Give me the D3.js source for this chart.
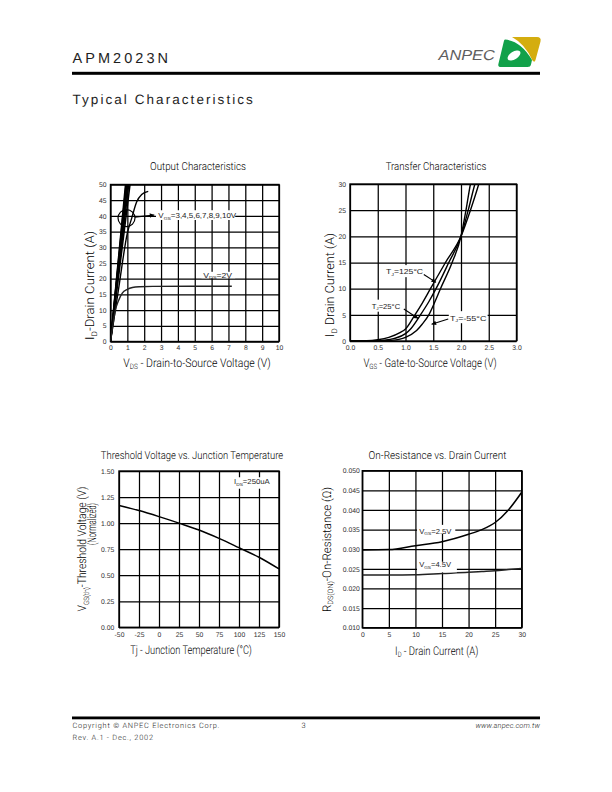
<!DOCTYPE html>
<html><head><meta charset="utf-8">
<script src="https://cdn.jsdelivr.net/npm/d3@7"></script>
<style>body{margin:0;background:#fff}svg{display:block}text{text-rendering:geometricPrecision}</style>
</head><body>
<svg id="page" width="612" height="792"></svg>
<script>
// ---------------- DATA ----------------
// Output Characteristics
const outXTicks = [0,1,2,3,4,5,6,7,8,9,10];
const outYTicks = [0,5,10,15,20,25,30,35,40,45,50];
const outVgs2 = [[0,0],[0.15,5.5],[0.27,9.5],[0.5,13.3],[0.7,15.4],[1.0,16.6],[1.3,17.2],[1.7,17.45],[2.5,17.55],[7.2,17.6]];
const outVgs3 = [[0,0],[0.5,17.5],[1.0,34.5],[1.26,39.3],[1.55,44.4],[1.85,46.8],[2.24,47.8]];
const outVgs4to10 = [
  [[0,0],[1.16,50],[1.2,52]],
  [[0,0],[1.08,50],[1.12,52]],
  [[0,0],[1.02,50],[1.06,52]],
  [[0,0],[0.98,50],[1.02,52]],
  [[0,0],[0.95,50],[0.99,52]],
  [[0,0],[0.92,50],[0.96,52]],
  [[0,0],[0.89,50],[0.93,52]]
];
// Transfer Characteristics
const trXTicks = [0,0.5,1.0,1.5,2.0,2.5,3.0];
const trYTicks = [0,5,10,15,20,25,30];
const tr125 = [[0,0],[0.3,0.05],[0.5,0.25],[0.7,0.7],[0.9,1.6],[1.0,2.3],[1.17,5],[1.3,7.2],[1.45,10],[1.72,15],[2.0,20],[2.17,25],[2.32,30],[2.36,31.5]];
const tr25  = [[0,0],[0.4,0.03],[0.6,0.15],[0.8,0.5],[1.0,1.4],[1.1,2.4],[1.27,5],[1.42,7.5],[1.55,10],[1.78,15],[2.0,20],[2.13,25],[2.25,30],[2.29,31.5]];
const trM55 = [[0,0],[0.5,0.02],[0.7,0.1],[0.9,0.35],[1.0,0.7],[1.2,2.0],[1.3,3.2],[1.42,5],[1.53,7.5],[1.63,10],[1.84,15],[2.0,20],[2.09,25],[2.17,30],[2.2,31.5]];
// Threshold voltage vs junction temperature
const thXTicks = [-50,-25,0,25,50,75,100,125,150];
const thYTicks = [0,0.25,0.5,0.75,1.0,1.25,1.5];
const thTemps  = [-50,-25,0,25,50,75,100,125,150];
const thValues = [1.17,1.12,1.062,1.0,0.934,0.854,0.764,0.672,0.56];
// On-resistance vs drain current
const ronXTicks = [0,5,10,15,20,25,30];
const ronYTicks = [0.010,0.015,0.020,0.025,0.030,0.035,0.040,0.045,0.050];
const ronId  = [0,5,10,15,20,22.5,25,27.5,30];
const ron25V = [0.0298,0.0299,0.0309,0.0319,0.0338,0.0350,0.0368,0.0400,0.0445];
const ron45V = [0.0234,0.0234,0.0235,0.0238,0.0241,0.0243,0.0245,0.0248,0.0251];

// ---------------- HELPERS ----------------
const FONT = "'Liberation Sans', Arial, Helvetica, sans-serif";
const FONT_L = "Roboto, 'Liberation Sans', Arial, sans-serif";
const INK = "#1e1e1e";
const svg = d3.select("#page");
const defs = svg.append("defs");
defs.append("marker").attr("id","arr").attr("viewBox","0 0 10 10").attr("refX",10).attr("refY",5)
  .attr("markerWidth",5.5).attr("markerHeight",4.5).attr("markerUnits","userSpaceOnUse").attr("orient","auto")
  .append("path").attr("d","M0,0L10,5L0,10Z").attr("fill","#000");

function addText(parent, x, y, parts, o) {
  o = o || {};
  const size = o.size || 10;
  const t = parent.append("text").attr("x",0).attr("y",0)
    .attr("font-family", o.family || FONT).attr("font-size", size)
    .attr("fill", o.fill || INK)
    .attr("text-anchor", o.anchor || "start");
  if (o.italic) t.attr("font-style","italic");
  if (o.weight) t.attr("font-weight",o.weight);
  let shift = 0;
  parts.forEach(p => {
    const s = t.append("tspan").text(p.t);
    const want = p.sub ? size*0.22 : 0;
    if (want !== shift) { s.attr("dy", want - shift); shift = want; }
    if (p.sub) s.attr("font-size", size*0.62);
  });
  let tr = `translate(${x},${y})` + (o.rotate ? ` rotate(${o.rotate})` : "");
  t.attr("transform", tr);
  if (o.width) {
    const w = t.node().getBBox().width;
    if (o.spread) {
      const n = parts.map(p=>p.t).join("").length;
      t.attr("letter-spacing", (o.width - w)/(n-1));
    } else {
      t.attr("transform", tr + ` scale(${o.width/w},1)`);
    }
  }
  return t;
}

let clipN = 0;
function chart(cfg) {
  const g = svg.append("g");
  const x = d3.scaleLinear(cfg.xDomain, [cfg.left, cfg.right]);
  const y = d3.scaleLinear(cfg.yDomain, [cfg.bottom, cfg.top]);
  const h = cfg.bottom - cfg.top, w = cfg.right - cfg.left;
  const gx = g.append("g").attr("transform",`translate(0,${cfg.bottom})`)
    .call(d3.axisBottom(x).tickValues(cfg.xTicks).tickSize(-h).tickFormat(""));
  const gy = g.append("g").attr("transform",`translate(${cfg.left},0)`)
    .call(d3.axisLeft(y).tickValues(cfg.yTicks).tickSize(-w).tickFormat(""));
  [gx,gy].forEach(a => { a.select(".domain").remove(); a.selectAll("line").attr("stroke","#000").attr("stroke-width",1.25); });
  g.append("rect").attr("x",cfg.left).attr("y",cfg.top).attr("width",w).attr("height",h)
    .attr("fill","none").attr("stroke","#000").attr("stroke-width",1.4);
  const lx = g.append("g").attr("transform",`translate(0,${cfg.bottom})`)
    .call(d3.axisBottom(x).tickValues(cfg.xTicks).tickSize(0).tickPadding(cfg.xPad).tickFormat(cfg.xFmt));
  const ly = g.append("g").attr("transform",`translate(${cfg.left},0)`)
    .call(d3.axisLeft(y).tickValues(cfg.yTicks).tickSize(0).tickPadding(cfg.yPad).tickFormat(cfg.yFmt));
  [lx,ly].forEach(a => { a.select(".domain").remove(); a.attr("font-family",FONT).attr("font-size",6.8); a.selectAll("text").attr("fill","#333"); });
  const id = "clip" + (clipN++);
  defs.append("clipPath").attr("id",id).append("rect").attr("x",cfg.left).attr("y",cfg.top).attr("width",w).attr("height",h);
  const plot = g.append("g").attr("clip-path",`url(#${id})`);
  return {g, x, y, plot};
}
function curve(c, pts, sw, color, interp) {
  const line = d3.line().x(d=>c.x(d[0])).y(d=>c.y(d[1])).curve(interp || d3.curveMonotoneX);
  c.plot.append("path").attr("d", line(pts)).attr("fill","none").attr("stroke", color || "#000").attr("stroke-width", sw || 1.4);
}
function whiteBox(c, x0, y0, x1, y1) {
  c.g.append("rect").attr("x", c.x(x0)).attr("y", c.y(y1)).attr("width", c.x(x1)-c.x(x0)).attr("height", c.y(y0)-c.y(y1)).attr("fill","#fff");
}
function arrow(c, a, b) {
  c.g.append("line").attr("x1",c.x(a[0])).attr("y1",c.y(a[1])).attr("x2",c.x(b[0])).attr("y2",c.y(b[1]))
    .attr("stroke","#000").attr("stroke-width",1.1).attr("marker-end","url(#arr)");
}
const plain = d => String(d);
const N = {family: FONT_L, weight: 300, fill: "#000"};

// ---------------- HEADER / FOOTER ----------------
addText(svg, 72.5, 62.7, [{t:"APM2023N"}], {size:14.5, width:95.6, spread:true});
svg.append("rect").attr("x",72).attr("y",71.8).attr("width",468).attr("height",3).attr("fill","#000");
addText(svg, 72.5, 103.5, [{t:"Typical Characteristics"}], {size:13.5, width:180.6, spread:true});
// logo
addText(svg, 438.5, 59.5, [{t:"ANPEC"}], {size:14.5, width:58, italic:true, fill:"#5e5e5e"});
svg.append("path").attr("d","M512,37 L537,37 Q541.5,37 540.5,41.5 L535.5,60 Q534.5,63 532.5,60.5 Q525,44 512,37 Z").attr("fill","#d4ad0f");
svg.append("path").attr("d","M505,39.5 Q521,41 532,60 L531,64.5 Q530.5,67 527.5,67 L501,67 Q497.5,67 498.5,63.5 L503.8,41.5 Q504.2,39.6 505,39.5 Z").attr("fill","#12a14a");
svg.append("ellipse").attr("cx",514).attr("cy",55.5).attr("rx",7.2).attr("ry",3.9).attr("transform","rotate(-33,514,55.5)").attr("fill","#fff");

svg.append("rect").attr("x",72).attr("y",716.5).attr("width",468).attr("height",2.8).attr("fill","#000");
const F = {family: FONT_L, weight: 300, fill: "#1a1a1a"};
addText(svg, 72.5, 728, [{t:"Copyright © ANPEC Electronics Corp."}], {...F, size:7.4, width:147, spread:true});
addText(svg, 301.5, 728, [{t:"3"}], {...F, size:7.4});
addText(svg, 540, 728, [{t:"www.anpec.com.tw"}], {...F, size:7.4, width:65, spread:true, italic:true, anchor:"end"});
addText(svg, 72.5, 740, [{t:"Rev. A.1 - Dec., 2002"}], {...F, size:7.4, width:80.5, spread:true});

// ---------------- CHART 1: Output ----------------
const c1 = chart({xDomain:[0,10], yDomain:[0,50], left:110.5, right:279, top:184.5, bottom:341.5,
  xTicks:outXTicks, yTicks:outYTicks, xPad:3.7, yPad:4, xFmt:plain, yFmt:plain});
outVgs4to10.forEach(p => curve(c1, p, 1.5, "#000", d3.curveLinear));
curve(c1, outVgs3, 1.4);
curve(c1, outVgs2, 1.4, "#222");
c1.g.append("circle").attr("cx",c1.x(0.95)).attr("cy",c1.y(39.3)).attr("r",8.5).attr("fill","none").attr("stroke","#000").attr("stroke-width",1.2);
arrow(c1, [1.45,39.6], [2.6,40.3]);
whiteBox(c1, 2.7, 38.7, 7.4, 41.8);
addText(c1.g, c1.x(2.84), c1.y(39.3), [{t:"V"},{t:"GS",sub:true},{t:"=3,4,5,6,7,8,9,10V"}], {size:7.2, width:78});
whiteBox(c1, 5.4, 20.15, 7.4, 22.2);
addText(c1.g, c1.x(5.51), c1.y(20.3), [{t:"V"},{t:"DS",sub:true},{t:"=2V"}], {size:7.2, width:29});
addText(svg, 198, 170, [{t:"Output Characteristics"}], {...N, size:11, width:96, anchor:"middle"});
addText(svg, 197, 366.5, [{t:"V"},{t:"DS",sub:true},{t:" - Drain-to-Source Voltage (V)"}], {...N, size:12, width:147.4, anchor:"middle"});
addText(svg, 94, 285.5, [{t:"I"},{t:"D",sub:true},{t:"-Drain Current (A)"}], {...N, size:12.5, width:109, anchor:"middle", rotate:-90});

// ---------------- CHART 2: Transfer ----------------
const c2 = chart({xDomain:[0,3], yDomain:[0,30], left:350, right:516.5, top:184, bottom:341,
  xTicks:trXTicks, yTicks:trYTicks, xPad:3.7, yPad:4, xFmt:d3.format(".1f"), yFmt:plain});
curve(c2, tr125, 1.4);
curve(c2, tr25, 1.4);
curve(c2, trM55, 1.4);
whiteBox(c2, 0.62, 12.2, 1.33, 14.5);
addText(c2.g, c2.x(0.65), c2.y(12.8), [{t:"T"},{t:"J",sub:true},{t:"=125°C"}], {size:7.2, width:37});
arrow(c2, [1.33,12.7], [1.55,11.2]);
whiteBox(c2, 0.36, 5.6, 0.95, 7.9);
addText(c2.g, c2.x(0.39), c2.y(6.2), [{t:"T"},{t:"J",sub:true},{t:"=25°C"}], {size:7.2, width:28.5});
arrow(c2, [0.97,6.1], [1.23,4.3]);
whiteBox(c2, 1.78, 3.4, 2.48, 5.7);
addText(c2.g, c2.x(1.80), c2.y(3.9), [{t:"T"},{t:"J",sub:true},{t:"=-55°C"}], {size:7.2, width:36.5});
arrow(c2, [1.77,4.2], [1.47,3.2]);
addText(svg, 436, 170, [{t:"Transfer Characteristics"}], {...N, size:11, width:100.7, anchor:"middle"});
addText(svg, 430, 366.5, [{t:"V"},{t:"GS",sub:true},{t:" - Gate-to-Source Voltage (V)"}], {...N, size:12, width:133.3, anchor:"middle"});
addText(svg, 334, 285, [{t:"I"},{t:"D",sub:true},{t:" Drain Current (A)"}], {...N, size:12.5, width:104, anchor:"middle", rotate:-90});

// ---------------- CHART 3: Threshold ----------------
const c3 = chart({xDomain:[-50,150], yDomain:[0,1.5], left:119, right:279, top:471, bottom:627.3,
  xTicks:thXTicks, yTicks:thYTicks, xPad:4.6, yPad:4.7, xFmt:plain, yFmt:d3.format(".2f")});
curve(c3, thTemps.map((t,i)=>[t,thValues[i]]), 1.5);
whiteBox(c3, 91, 1.33, 141, 1.44);
addText(c3.g, c3.x(93.75), c3.y(1.375), [{t:"I"},{t:"DS",sub:true},{t:"=250uA"}], {size:7.2, width:36});
addText(svg, 192, 458.5, [{t:"Threshold Voltage vs. Junction Temperature"}], {...N, size:11, width:182.6, anchor:"middle"});
addText(svg, 191, 654, [{t:"Tj - Junction Temperature (°C)"}], {...N, size:12, width:121.7, anchor:"middle"});
addText(svg, 86, 549, [{t:"V"},{t:"GS(th)",sub:true},{t:"-Threshold Voltage (V)"}], {...N, size:12, width:125, anchor:"middle", rotate:-90});
addText(svg, 96, 524, [{t:"(Normalized)"}], {...N, size:12, width:42, anchor:"middle", rotate:-90});

// ---------------- CHART 4: On-resistance ----------------
const c4 = chart({xDomain:[0,30], yDomain:[0.010,0.050], left:362.3, right:521.7, top:470.7, bottom:627.7,
  xTicks:ronXTicks, yTicks:ronYTicks, xPad:4.6, yPad:2.5, xFmt:plain, yFmt:d3.format(".3f")});
whiteBox(c4, 10.3, 0.0339, 17.5, 0.0362);
whiteBox(c4, 10.3, 0.0241, 17.8, 0.0268);
curve(c4, ronId.map((v,i)=>[v,ron25V[i]]), 1.5);
curve(c4, ronId.map((v,i)=>[v,ron45V[i]]), 1.5, "#222");
addText(c4.g, c4.x(10.7), c4.y(0.0340), [{t:"V"},{t:"GS",sub:true},{t:"=2.5V"}], {size:7.2, width:32.5});
addText(c4.g, c4.x(10.7), c4.y(0.02546), [{t:"V"},{t:"GS",sub:true},{t:"=4.5V"}], {size:7.2, width:32});
addText(svg, 437.5, 458.5, [{t:"On-Resistance vs. Drain Current"}], {...N, size:11, width:138.3, anchor:"middle"});
addText(svg, 436.7, 654.5, [{t:"I"},{t:"D",sub:true},{t:" - Drain Current (A)"}], {...N, size:12, width:83.3, anchor:"middle"});
addText(svg, 330.5, 549.5, [{t:"R"},{t:"DS(ON)",sub:true},{t:"-On-Resistance (Ω)"}], {...N, size:12, width:125, anchor:"middle", rotate:-90});
</script>
</body></html>
